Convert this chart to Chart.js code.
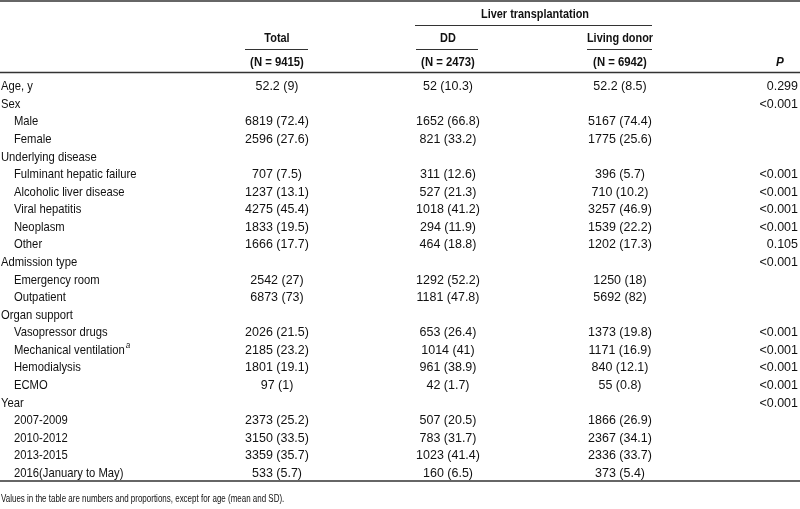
<!DOCTYPE html>
<html>
<head>
<meta charset="utf-8">
<script src="https://cdn.jsdelivr.net/npm/chart.js@4/dist/chart.umd.min.js"></script>
<style>
  html, body { margin: 0; padding: 0; background: #fff; }
  #wrap { position: relative; width: 800px; height: 509px; }
</style>
</head>
<body>
<div id="wrap"><canvas id="table-chart"></canvas></div>
<script>
// rows of the table, top to bottom
const rowLabels = [
    'Age, y', 'Sex', 'Male', 'Female', 'Underlying disease',
    'Fulminant hepatic failure', 'Alcoholic liver disease', 'Viral hepatitis', 'Neoplasm', 'Other',
    'Admission type', 'Emergency room', 'Outpatient',
    'Organ support', 'Vasopressor drugs', 'Mechanical ventilation', 'Hemodialysis', 'ECMO',
    'Year', '2007-2009', '2010-2012', '2013-2015', '2016(January to May)'
];
const rowIsSub = [0, 0, 1, 1, 0, 1, 1, 1, 1, 1, 0, 1, 1, 0, 1, 1, 1, 1, 0, 1, 1, 1, 1];
const rowNotes = ['', '', '', '', '', '', '', '', '', '', '', '', '', '', '', 'a', '', '', '', '', '', '', ''];

// number (or mean) and proportion (or SD) per group
const totalN     = [52.2, null, 6819, 2596, null, 707, 1237, 4275, 1833, 1666, null, 2542, 6873, null, 2026, 2185, 1801, 97, null, 2373, 3150, 3359, 533];
const totalPct   = [9, null, 72.4, 27.6, null, 7.5, 13.1, 45.4, 19.5, 17.7, null, 27, 73, null, 21.5, 23.2, 19.1, 1, null, 25.2, 33.5, 35.7, 5.7];
const ddN        = [52, null, 1652, 821, null, 311, 527, 1018, 294, 464, null, 1292, 1181, null, 653, 1014, 961, 42, null, 507, 783, 1023, 160];
const ddPct      = [10.3, null, 66.8, 33.2, null, 12.6, 21.3, 41.2, 11.9, 18.8, null, 52.2, 47.8, null, 26.4, 41, 38.9, 1.7, null, 20.5, 31.7, 41.4, 6.5];
const livingN    = [52.2, null, 5167, 1775, null, 396, 710, 3257, 1539, 1202, null, 1250, 5692, null, 1373, 1171, 840, 55, null, 1866, 2367, 2336, 373];
const livingPct  = [8.5, null, 74.4, 25.6, null, 5.7, 10.2, 46.9, 22.2, 17.3, null, 18, 82, null, 19.8, 16.9, 12.1, 0.8, null, 26.9, 34.1, 33.7, 5.4];
const pValues    = ['0.299', '<0.001', '', '', '', '<0.001', '<0.001', '<0.001', '<0.001', '0.105', '<0.001', '', '', '', '<0.001', '<0.001', '<0.001', '<0.001', '<0.001', '', '', '', ''];

const columnNames = ['Total', 'DD', 'Living donor'];
const columnCounts = [9415, 2473, 6942];
const groupName = 'Liver transplantation';
const pHeader = 'P';
const footnote = 'Values in the table are numbers and proportions, except for age (mean and SD).';

// layout
const FONT = '"Liberation Sans", Arial, sans-serif';
const SIZE = 13;
const colX = { label: 1, sub: 14, total: 277, dd: 448, living: 620, p: 798, pHead: 780 };
const ink = '#111';
const ruleColor = '#333';

function cell(n, p) {
    return n === null ? '' : `${n} (${p})`;
}

function column(x, texts) {
    return texts.map((t, i) => ({ x: typeof x === 'function' ? x(i) : x, y: i, text: t }));
}

// text squeezed horizontally, the original uses a condensed face
function drawText(ctx, t, x, y, font, align, sx) {
    ctx.save();
    ctx.translate(x, y);
    ctx.scale(sx, 1);
    ctx.font = font;
    ctx.textAlign = align;
    ctx.textBaseline = 'middle';
    ctx.fillText(t, 0, 0);
    const w = ctx.measureText(t).width * sx;
    ctx.restore();
    return w;
}

const datasets = [
    { label: 'label', data: column(i => rowIsSub[i] ? colX.sub : colX.label, rowLabels), cellAlign: 'left', cellScale: 0.865 },
    { label: 'Total', data: column(colX.total, totalN.map((n, i) => cell(n, totalPct[i]))), cellAlign: 'center', cellScale: 0.96 },
    { label: 'DD', data: column(colX.dd, ddN.map((n, i) => cell(n, ddPct[i]))), cellAlign: 'center', cellScale: 0.96 },
    { label: 'Living donor', data: column(colX.living, livingN.map((n, i) => cell(n, livingPct[i]))), cellAlign: 'center', cellScale: 0.96 },
    { label: 'P', data: column(colX.p, pValues), cellAlign: 'right', cellScale: 0.96 }
].map(ds => Object.assign(ds, { pointRadius: 0, pointHoverRadius: 0, pointHitRadius: 0, showLine: false }));

// draws the cell texts at the positions the scales gave the points
const tableCells = {
    id: 'tableCells',
    afterDatasetsDraw(chart) {
        const ctx = chart.ctx;
        ctx.save();
        ctx.fillStyle = ink;
        chart.data.datasets.forEach((ds, di) => {
            const meta = chart.getDatasetMeta(di);
            meta.data.forEach((pt, i) => {
                const t = ds.data[i].text;
                if (!t) return;
                const w = drawText(ctx, t, pt.x, pt.y, `${SIZE}px ${FONT}`, ds.cellAlign, ds.cellScale);
                if (di === 0 && rowNotes[i]) {
                    drawText(ctx, rowNotes[i], pt.x + w + 1, pt.y - 5, `italic 9px ${FONT}`, 'left', 0.9);
                }
            });
        });
        ctx.restore();
    }
};

// header block, rules and footnote
const tableFrame = {
    id: 'tableFrame',
    afterDraw(chart) {
        const ctx = chart.ctx;
        const xs = chart.scales.x;
        const area = chart.chartArea;
        const px = v => xs.getPixelForValue(v);

        function rule(x1, x2, y, w) {
            ctx.beginPath();
            ctx.strokeStyle = ruleColor;
            ctx.lineWidth = w;
            ctx.moveTo(x1, y);
            ctx.lineTo(x2, y);
            ctx.stroke();
        }

        ctx.save();
        ctx.fillStyle = ink;
        const bold = `bold ${SIZE}px ${FONT}`;

        rule(0, chart.width, 1, 1.5);
        drawText(ctx, groupName, (px(colX.dd) + px(colX.living)) / 2 + 1, 14, bold, 'center', 0.84);
        rule(415, 652, 25.5, 1);

        const centers = [colX.total, colX.dd, colX.living];
        const underline = [[245, 308], [416, 478], [587, 652]];
        columnNames.forEach((name, i) => {
            drawText(ctx, name, px(centers[i]), 38, bold, 'center', 0.84);
            rule(underline[i][0], underline[i][1], 49.5, 1);
            drawText(ctx, `(N = ${columnCounts[i]})`, px(centers[i]), 62, bold, 'center', 0.87);
        });
        drawText(ctx, pHeader, px(colX.pHead), 62, `italic bold ${SIZE}px ${FONT}`, 'center', 0.9);

        rule(0, chart.width, area.top - 5.5, 1.5);
        rule(0, chart.width, area.bottom - 1, 1.5);

        drawText(ctx, footnote, 1, 499, `10.5px ${FONT}`, 'left', 0.76);
        ctx.restore();
    }
};

new Chart(document.getElementById('table-chart'), {
    type: 'scatter',
    data: { datasets: datasets },
    options: {
        responsive: true,
        maintainAspectRatio: false,
        animation: false,
        events: [],
        layout: { padding: { top: 78, bottom: 27, left: 0, right: 0 } },
        plugins: { legend: { display: false }, tooltip: { enabled: false } },
        scales: {
            x: { type: 'linear', min: 0, max: 800, display: false },
            y: { type: 'linear', min: -0.5, max: rowLabels.length - 0.5, reverse: true, display: false }
        }
    },
    plugins: [tableCells, tableFrame]
});
</script>
</body>
</html>
